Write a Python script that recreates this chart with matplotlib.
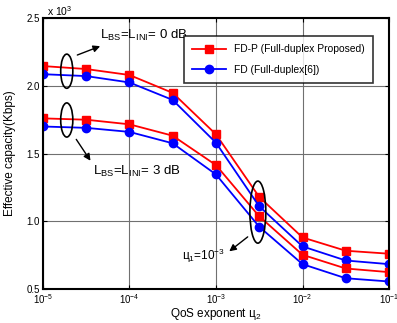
import numpy as np
import matplotlib
matplotlib.use('Agg')
import matplotlib.pyplot as plt
from matplotlib.patches import Ellipse

plt.rcParams['font.family'] = ['Liberation Sans', 'DejaVu Sans']
plt.rcParams['mathtext.default'] = 'regular'

# QoS exponent u2 (log-spaced half decades)
qos = [1e-5, 3.16e-5, 1e-4, 3.16e-4, 1e-3, 3.16e-3, 1e-2, 3.16e-2, 1e-1]

# effective capacity, x10^3 Kbps
fdp_0db = [2.146, 2.124, 2.080, 1.948, 1.642, 1.180, 0.881, 0.783, 0.761]
fd_0db = [2.086, 2.072, 2.025, 1.896, 1.580, 1.111, 0.815, 0.711, 0.684]
fdp_3db = [1.760, 1.750, 1.716, 1.632, 1.415, 1.037, 0.753, 0.652, 0.625]
fd_3db = [1.700, 1.690, 1.660, 1.576, 1.346, 0.960, 0.684, 0.580, 0.556]

fig = plt.figure(figsize=(3.97, 3.23), dpi=100)
ax = fig.add_axes([0.108, 0.105, 0.872, 0.839])

ax.plot(qos, fdp_0db, 'r-s', lw=1.3, ms=6, label='FD-P (Full-duplex Proposed)')
ax.plot(qos, fd_0db, 'b-o', lw=1.3, ms=6, label='FD (Full-duplex[6])')
ax.plot(qos, fdp_3db, 'r-s', lw=1.3, ms=6)
ax.plot(qos, fd_3db, 'b-o', lw=1.3, ms=6)

ax.set_xscale('log')
ax.set_xlim(1e-5, 1e-1)
ax.set_ylim(0.5, 2.5)
ax.set_yticks([0.5, 1.0, 1.5, 2.0, 2.5])
ax.set_yticklabels(['0.5', '1.0', '1.5', '2.0', '2.5'])
ax.set_xticks([1e-5, 1e-4, 1e-3, 1e-2, 1e-1])
ax.minorticks_off()
ax.tick_params(direction='in', top=True, right=True, labelsize=7, length=3, pad=2)
ax.grid(True, color='#707070', lw=0.8)
for s in ax.spines.values():
    s.set_linewidth(1.5)

ax.set_xlabel('QoS exponent ц$_2$', fontsize=8.5, labelpad=0)
ax.set_ylabel('Effective capacity(Kbps)', fontsize=8.5, labelpad=8)
fig.text(0.118, 0.965, r'x 10$^3$', fontsize=7.5, va='center')

leg = ax.legend(loc='upper right', fontsize=7.4, frameon=True, fancybox=False,
                edgecolor='black', borderpad=0.8, labelspacing=1.0,
                handlelength=3.3, bbox_to_anchor=(0.968, 0.952))
leg.get_frame().set_linewidth(1.2)

# annotations (axes fraction coordinates)
arrow = dict(arrowstyle='-|>', lw=1, color='black')
ax.add_patch(Ellipse((0.069, 0.804), 0.035, 0.126, fill=False, lw=1.2,
                     transform=ax.transAxes, zorder=5))
ax.annotate('', xy=(0.173, 0.900), xytext=(0.092, 0.860),
            xycoords='axes fraction', arrowprops=arrow)
ax.text(0.165, 0.937, 'L$_{BS}$=L$_{INI}$= 0 dB', fontsize=9.5, va='center',
        transform=ax.transAxes)

ax.add_patch(Ellipse((0.069, 0.624), 0.035, 0.126, fill=False, lw=1.2,
                     transform=ax.transAxes, zorder=5))
ax.annotate('', xy=(0.142, 0.465), xytext=(0.092, 0.561),
            xycoords='axes fraction', arrowprops=arrow)
ax.text(0.145, 0.435, 'L$_{BS}$=L$_{INI}$= 3 dB', fontsize=9.5, va='center',
        transform=ax.transAxes)

ax.add_patch(Ellipse((0.621, 0.284), 0.046, 0.229, fill=False, lw=1.2,
                     transform=ax.transAxes, zorder=5))
ax.annotate('', xy=(0.532, 0.133), xytext=(0.598, 0.199),
            xycoords='axes fraction', arrowprops=arrow)
ax.text(0.526, 0.122, 'ц$_1$=10$^{-3}$', fontsize=8.5, va='center', ha='right',
        transform=ax.transAxes)

fig.savefig('out.png', dpi=100)
